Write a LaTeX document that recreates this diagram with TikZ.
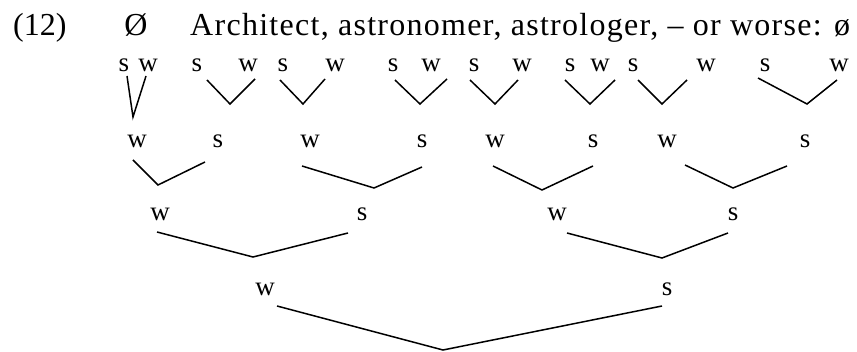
\documentclass[tikz,border=0pt]{standalone}
\usepackage{fontspec}
\setmainfont{Liberation Serif}
\begin{document}
\begin{tikzpicture}[x=1pt,y=-1pt,
  lbl/.style={font=\fontsize{27}{27}\selectfont, inner sep=0pt, anchor=base},
  head/.style={font=\fontsize{32}{32}\selectfont, inner sep=0pt, anchor=base west},
  tie/.style={line width=1.5pt, line join=miter}]
\useasboundingbox (0,0) rectangle (857,352);

% example number and heading line
\node[head] (exno) at (13,36) {(12)};
\node[head, anchor=base] (nul) at (136,36) {Ø};
\node[head] (verse) at (190,36) {\addfontfeature{LetterSpace=4}Architect, astronomer, astrologer, -- or worse: ø};

% feet: s w pairs joined by a V
\foreach \n/\sx/\wx/\ax/\ay/\vx/\vy/\bx/\by in {
  1/124/148/127/76/133/117/146/76,
  2/197/248/207/80/230/104/255/79,
  3/283/335/280/80/303/104/325/79,
  4/393/431/395/80/420/104/447/79,
  5/474/522/470/80/495/104/518/80,
  6/570/600/565/80/590/104/615/80,
  7/633/706/638/80/662/104/687/80,
  8/765/839/758/78/807/104/837/80} {
  \node[lbl] (fs\n) at (\sx,72) {s};
  \node[lbl] (fw\n) at (\wx,72) {w};
  \coordinate (fa\n) at (\ax,\ay);
  \coordinate (fv\n) at (\vx,\vy);
  \coordinate (fb\n) at (\bx,\by);
  \draw[tie] (fa\n) -- (fv\n) -- (fb\n);
}

% second level: w s pairs
\foreach \n/\wx/\sx/\ax/\ay/\vx/\vy/\bx/\by in {
  1/137/218/133/160/158/185/205/162,
  2/310/422/302/166/374/188/422/167,
  3/495/593/493/166/542/190/593/166,
  4/667/805/685/165/733/188/787/166} {
  \node[lbl] (dw\n) at (\wx,148) {w};
  \node[lbl] (ds\n) at (\sx,148) {s};
  \coordinate (da\n) at (\ax,\ay);
  \coordinate (dv\n) at (\vx,\vy);
  \coordinate (db\n) at (\bx,\by);
  \draw[tie] (da\n) -- (dv\n) -- (db\n);
}

% third level
\foreach \n/\wx/\sx/\ax/\ay/\vx/\vy/\bx/\by in {
  1/160/362/157/232/253/257/348/233,
  2/557/733/567/233/662/258/728/233} {
  \node[lbl] (hw\n) at (\wx,221) {w};
  \node[lbl] (hs\n) at (\sx,221) {s};
  \coordinate (ha\n) at (\ax,\ay);
  \coordinate (hv\n) at (\vx,\vy);
  \coordinate (hb\n) at (\bx,\by);
  \draw[tie] (ha\n) -- (hv\n) -- (hb\n);
}

% top level
\node[lbl] (tw) at (265,296) {w};
\node[lbl] (ts) at (667,296) {s};
\coordinate (ta) at (277,306);
\coordinate (tv) at (443,350);
\coordinate (tb) at (662,306);
\draw[tie] (ta) -- (tv) -- (tb);
\end{tikzpicture}
\end{document}
